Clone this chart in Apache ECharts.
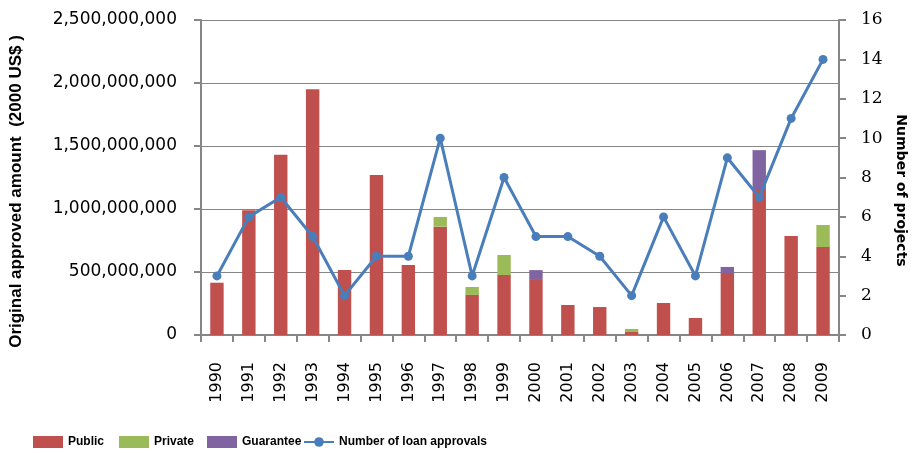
<!DOCTYPE html>
<html>
<head>
<meta charset="utf-8">
<script src="https://cdn.jsdelivr.net/npm/echarts@6/dist/echarts.min.js"></script>
<style>
html, body { margin: 0; padding: 0; background: #fff; }
#chart-container { width: 912px; height: 453px; }
</style>
</head>
<body>
<div id="chart-container"></div>
<script>
var years = ['1990', '1991', '1992', '1993', '1994', '1995', '1996', '1997', '1998', '1999',
    '2000', '2001', '2002', '2003', '2004', '2005', '2006', '2007', '2008', '2009'];
var publicAmt = [415e6, 990e6, 1430e6, 1950e6, 516e6, 1270e6, 556e6, 860e6, 318e6, 476e6,
    444e6, 238e6, 222e6, 24e6, 254e6, 135e6, 492e6, 1150e6, 786e6, 698e6];
var privateAmt = [0, 0, 0, 0, 0, 0, 0, 77e6, 63e6, 159e6,
    0, 0, 0, 24e6, 0, 0, 0, 0, 0, 175e6];
var guaranteeAmt = [0, 0, 0, 0, 0, 0, 0, 0, 0, 0,
    71e6, 0, 0, 0, 0, 0, 48e6, 317e6, 0, 0];
var approvals = [3, 6, 7, 5, 2, 4, 4, 10, 3, 8, 5, 5, 4, 2, 6, 3, 9, 7, 11, 14];

var dom = document.getElementById('chart-container');
var myChart = echarts.init(dom, null, { renderer: 'canvas' });

var sans = "'DejaVu Sans', sans-serif";
var serif = "'DejaVu Serif', serif";
var bold = "'Liberation Sans', Arial, sans-serif";
var grey = '#868686';

// one legend per item so each sits where the reference puts it
function legendAt(left, name, icon) {
    return {
        left: left,
        top: 431,
        itemWidth: 30,
        itemHeight: 12,
        itemGap: 0,
        textStyle: { fontFamily: bold, fontWeight: 'bold', fontSize: 12, color: '#000' },
        data: [icon ? { name: name, icon: icon } : { name: name }]
    };
}

var option = {
    animation: false,
    textStyle: { fontFamily: sans },
    grid: { left: 201, right: 73, top: 20, bottom: 118, containLabel: false, outerBoundsMode: 'none' },
    legend: [
        legendAt(28, 'Public', 'rect'),
        legendAt(114, 'Private', 'rect'),
        legendAt(202, 'Guarantee', 'rect'),
        legendAt(298, 'Number of loan approvals')
    ],
    xAxis: {
        type: 'category',
        data: years,
        axisLine: { lineStyle: { color: grey, width: 2 } },
        axisTick: { show: true, alignWithLabel: false, length: 7, lineStyle: { color: grey, width: 2 } },
        axisLabel: { rotate: 90, fontSize: 16, color: '#000', margin: 27, fontFamily: sans }
    },
    yAxis: [
        {
            type: 'value',
            min: 0,
            max: 2500000000,
            interval: 500000000,
            name: 'Original approved amount  (2000 US$ )',
            nameLocation: 'middle',
            nameGap: 176,
            nameTextStyle: { fontFamily: bold, fontWeight: 'bold', fontSize: 17, color: '#000', padding: [0, 28, 0, 0] },
            axisLine: { show: true, lineStyle: { color: grey, width: 2 } },
            axisTick: { show: true, length: 7, lineStyle: { color: grey, width: 2 } },
            splitLine: { lineStyle: { color: grey, width: 1 } },
            axisLabel: {
                fontSize: 17, color: '#000', margin: 24, fontFamily: sans,
                formatter: function (v) { return v.toLocaleString('en-US'); }
            }
        },
        {
            type: 'value',
            min: 0,
            max: 16,
            interval: 2,
            name: 'Number of projects',
            nameLocation: 'middle',
            nameGap: 54,
            nameRotate: -90,
            nameTextStyle: { fontFamily: sans, fontWeight: 'bold', fontSize: 14, color: '#000', padding: [0, 0, 0, 26] },
            axisLine: { show: true, lineStyle: { color: grey, width: 2 } },
            axisTick: { show: true, length: 7, lineStyle: { color: grey, width: 2 } },
            splitLine: { show: false },
            axisLabel: { fontSize: 17, color: '#000', margin: 22, fontFamily: serif }
        }
    ],
    series: [
        {
            name: 'Public', type: 'bar', stack: 'amt', barWidth: '42%',
            itemStyle: { color: '#c0504d' }, data: publicAmt
        },
        {
            name: 'Private', type: 'bar', stack: 'amt',
            itemStyle: { color: '#9bbb59' }, data: privateAmt
        },
        {
            name: 'Guarantee', type: 'bar', stack: 'amt',
            itemStyle: { color: '#8064a2' }, data: guaranteeAmt
        },
        {
            name: 'Number of loan approvals', type: 'line', yAxisIndex: 1,
            symbol: 'circle', symbolSize: 9,
            itemStyle: { color: '#4a7ebb' },
            lineStyle: { color: '#4a7ebb', width: 3 },
            data: approvals
        }
    ]
};

myChart.setOption(option);
window.addEventListener('resize', myChart.resize);
</script>
</body>
</html>
